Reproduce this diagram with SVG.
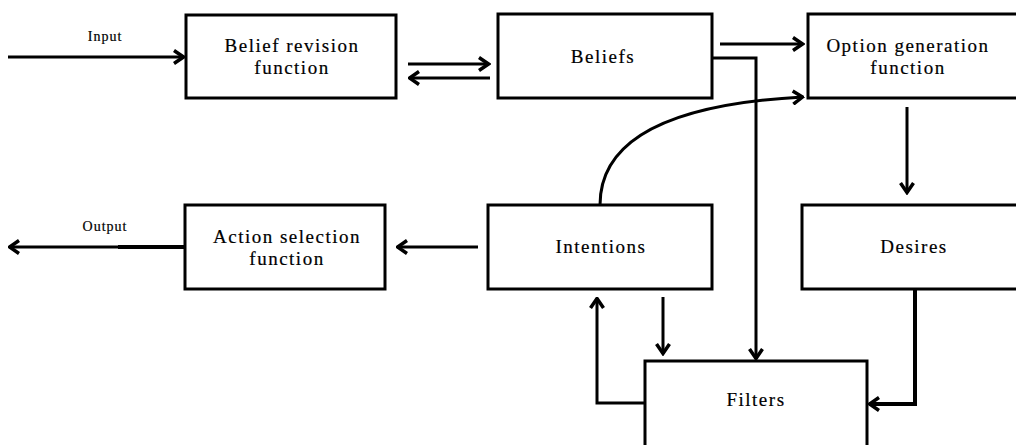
<svg xmlns="http://www.w3.org/2000/svg" width="1016" height="445" viewBox="0 0 1016 445">
<style>
.box{fill:#fff;stroke:#000;stroke-width:3}
.t{font-family:"Liberation Serif","Times New Roman",serif;font-size:19px;fill:#000;stroke:#000;stroke-width:0.2;text-anchor:middle;letter-spacing:1.5px}
.lbl{font-family:"Liberation Serif","Times New Roman",serif;font-size:14px;fill:#000;stroke:#000;stroke-width:0.2;text-anchor:middle;letter-spacing:1px}
.c{fill:none;stroke:#000;stroke-width:3}
</style>
<defs>
<marker id="ah" viewBox="0 0 13 16" refX="11.5" refY="8" markerWidth="13" markerHeight="16" markerUnits="userSpaceOnUse" orient="auto">
<path d="M1.5,1.5 L11,8 L1.5,14.5" fill="none" stroke="#000" stroke-width="3.5"/>
</marker>
</defs>
<rect width="1016" height="445" fill="#fff"/>
<g id="connectors">
<line class="c" x1="8" y1="57" x2="184" y2="57" marker-end="url(#ah)"/>
<line class="c" x1="408" y1="64" x2="489" y2="64" marker-end="url(#ah)"/>
<line class="c" x1="490" y1="78" x2="409" y2="78" marker-end="url(#ah)"/>
<line class="c" x1="720" y1="44" x2="803" y2="44" marker-end="url(#ah)"/>
<polyline class="c" points="711,58 756,58 756,359" marker-end="url(#ah)"/>
<path class="c" d="M600,205 C600,130 690,103 803,97" marker-end="url(#ah)"/>
<line class="c" x1="907" y1="107" x2="907" y2="193" marker-end="url(#ah)"/>
<line class="c" x1="478" y1="247" x2="397" y2="247" marker-end="url(#ah)"/>
<line x1="186" y1="247" x2="118" y2="247" stroke="#000" stroke-width="4"/>
<line class="c" x1="120" y1="247" x2="9" y2="247" marker-end="url(#ah)"/>
<line class="c" x1="663" y1="297" x2="663" y2="354" marker-end="url(#ah)"/>
<polyline class="c" points="645,403 597,403 597,298" marker-end="url(#ah)"/>
<polyline fill="none" stroke="#000" stroke-width="4" points="915,289 915,404 869,404" marker-end="url(#ah)"/>
<text class="lbl" x="105" y="41">Input</text>
<text class="lbl" x="105" y="231">Output</text>
</g>
<g id="belief-revision">
<rect class="box" x="186" y="15" width="210" height="83"/>
<text class="t" x="292" y="52">Belief revision</text>
<text class="t" x="292" y="74">function</text>
</g>
<g id="beliefs">
<rect class="box" x="498" y="14" width="214" height="84"/>
<text class="t" x="603" y="63">Beliefs</text>
</g>
<g id="option-generation">
<rect class="box" x="808" y="14" width="215" height="84"/>
<text class="t" x="908" y="52">Option generation</text>
<text class="t" x="908" y="74">function</text>
</g>
<g id="action-selection">
<rect class="box" x="185" y="205" width="200" height="84"/>
<text class="t" x="287" y="243">Action selection</text>
<text class="t" x="287" y="265">function</text>
</g>
<g id="intentions">
<rect class="box" x="488" y="205" width="224" height="84"/>
<text class="t" x="601" y="253">Intentions</text>
</g>
<g id="desires">
<rect class="box" x="802" y="205" width="221" height="84"/>
<text class="t" x="914" y="253">Desires</text>
</g>
<g id="filters">
<rect class="box" x="645" y="361" width="222" height="90"/>
<text class="t" x="756" y="406">Filters</text>
</g>
</svg>
